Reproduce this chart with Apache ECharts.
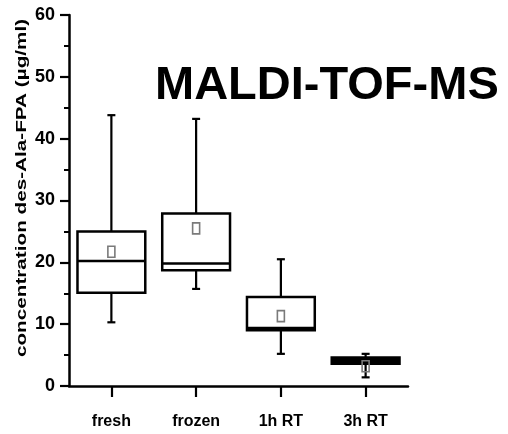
<!DOCTYPE html>
<html>
<head>
<meta charset="utf-8">
<script src="https://cdn.jsdelivr.net/npm/echarts@6/dist/echarts.min.js"></script>
<style>
html,body{margin:0;padding:0;background:#fff;}
#main{width:508px;height:434px;}
</style>
</head>
<body>
<div id="main"></div>
<script>
const categories = ['fresh', 'frozen', '1h RT', '3h RT'];
const mins    = [10.3, 15.7, 5.2, 1.4];
const q1s     = [15.1, 18.7, 9.0, 3.6];
const medians = [20.2, 19.8, 9.4, 4.1];
const q3s     = [25.0, 27.9, 14.4, 4.6];
const maxs    = [43.8, 43.2, 20.5, 5.2];
const means   = [21.7, 25.5, 11.3, 3.2];
const yTicks  = [0, 10, 20, 30, 40, 50, 60];
const titleText = 'MALDI-TOF-MS';
const yName = 'concentration des-Ala-FPA (µg/ml)';

const data = categories.map((c, i) => [i, mins[i], q1s[i], medians[i], q3s[i], maxs[i], means[i]]);

const chart = echarts.init(document.getElementById('main'), null, {renderer: 'canvas'});

function renderItem(params, api) {
  const x = api.value(0);
  const pMin = api.coord([x, api.value(1)]);
  const pQ1 = api.coord([x, api.value(2)]);
  const pMed = api.coord([x, api.value(3)]);
  const pQ3 = api.coord([x, api.value(4)]);
  const pMax = api.coord([x, api.value(5)]);
  const pMean = api.coord([x, api.value(6)]);
  const bw = api.size([1, 0])[0] * 0.8;
  const cx = pMed[0];
  const cap = 4;
  const lineStyle = {stroke: '#000', lineWidth: 2.2};
  const boxH = pQ1[1] - pQ3[1];
  const solid = boxH < 10;
  return {
    type: 'group',
    children: [
      {type: 'line', shape: {x1: cx, y1: pQ3[1], x2: cx, y2: pMax[1]}, style: lineStyle},
      {type: 'line', shape: {x1: cx - cap, y1: pMax[1], x2: cx + cap, y2: pMax[1]}, style: lineStyle},
      {type: 'line', shape: {x1: cx, y1: pQ1[1], x2: cx, y2: pMin[1]}, style: lineStyle},
      {type: 'line', shape: {x1: cx - cap, y1: pMin[1], x2: cx + cap, y2: pMin[1]}, style: lineStyle},
      {type: 'rect', shape: {x: cx - bw / 2, y: pQ3[1], width: bw, height: boxH},
        style: {fill: solid ? '#000' : '#fff', stroke: '#000', lineWidth: 2.5}},
      {type: 'line', shape: {x1: cx - bw / 2, y1: pMed[1], x2: cx + bw / 2, y2: pMed[1]},
        style: {stroke: '#000', lineWidth: 2.5}},
      {type: 'rect', shape: {x: pMean[0] - 3.5, y: pMean[1] - 5.5, width: 7, height: 11},
        style: {fill: solid ? 'rgba(255,255,255,0)' : '#fff', stroke: '#7a7a7a', lineWidth: 1.6}}
    ]
  };
}

const option = {
  animation: false,
  backgroundColor: '#fff',
  grid: {left: 69, right: 100, top: 15, bottom: 48, containLabel: false},
  xAxis: {
    type: 'category',
    data: categories,
    boundaryGap: true,
    axisLine: {show: true, lineStyle: {color: '#000', width: 2.5}},
    axisTick: {show: true, alignWithLabel: true, length: 11, lineStyle: {color: '#000', width: 2.2}},
    axisLabel: {margin: 28, color: '#000', fontFamily: 'Liberation Sans, Arial, sans-serif', fontWeight: 'bold', fontSize: 16},
    splitLine: {show: false}
  },
  yAxis: {
    type: 'value',
    min: yTicks[0],
    max: yTicks[yTicks.length - 1],
    interval: yTicks[1] - yTicks[0],
    axisLine: {show: true, lineStyle: {color: '#000', width: 2.5}},
    axisTick: {show: true, length: 9, lineStyle: {color: '#000', width: 2.2}},
    minorTick: {show: true, splitNumber: 2, length: 5, lineStyle: {color: '#000', width: 2}},
    minorSplitLine: {show: false},
    splitLine: {show: false},
    axisLabel: {margin: 14, color: '#000', fontFamily: 'Liberation Sans, Arial, sans-serif', fontWeight: 'bold', fontSize: 18}
  },
  graphic: [
    {
      type: 'text', x: 155, y: 86,
      style: {text: titleText, fill: '#000', font: 'bold 47px "Liberation Sans", Arial, sans-serif',
        textAlign: 'left', textVerticalAlign: 'middle'}
    },
    {
      type: 'text', x: 22, y: 188, rotation: Math.PI / 2, scaleX: 1.38,
      style: {text: yName, fill: '#000', font: 'bold 15px "Liberation Sans", Arial, sans-serif',
        textAlign: 'center', textVerticalAlign: 'middle'}
    }
  ],
  series: [{
    type: 'custom',
    renderItem: renderItem,
    encode: {x: 0, y: [1, 2, 3, 4, 5, 6]},
    data: data,
    z: 5
  }]
};
chart.setOption(option);
</script>
</body>
</html>
